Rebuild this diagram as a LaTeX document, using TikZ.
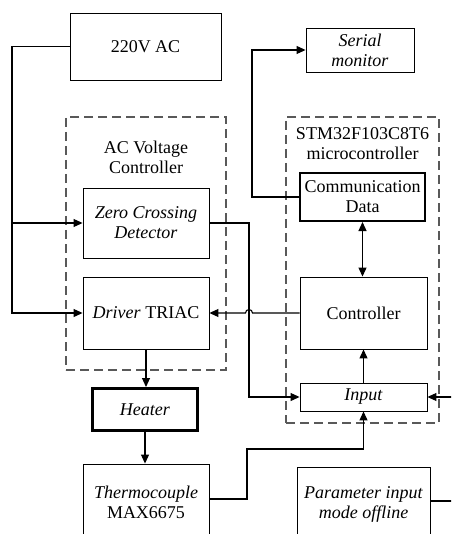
\documentclass[tikz,border=0pt]{standalone}
\usepackage{fontspec}
\setmainfont{Liberation Serif}
\usetikzlibrary{arrows.meta,calc}
\begin{document}
\begin{tikzpicture}[x=1pt,y=-1pt,
  box/.style={draw,line width=0.9pt,align=center,inner sep=0pt,font=\rmfamily\fontsize{18}{20}\selectfont},
  grp/.style={draw=black!65,dash pattern=on 9pt off 5pt,line width=1.1pt,inner sep=0pt},
  conn/.style={line width=1.1pt},
  tip/.tip={Triangle[length=9pt,width=8pt]},
  arr/.style={conn,-tip},
  lbl/.style={align=center,font=\rmfamily\fontsize{18}{20}\selectfont,inner sep=0pt}]
\useasboundingbox (0,0) rectangle (451,534);
\clip (0,0) rectangle (451,534);
% groups
\node[grp,minimum width=160pt,minimum height=253pt] (acv) at (146,243.5) {};
\node[grp,minimum width=153pt,minimum height=306pt] (stm) at (362.5,270) {};
\node[lbl] (acvt) at (146,157) {AC Voltage\\Controller};
\node[lbl] (stmt) at (362.5,143.5) {STM32F103C8T6\\microcontroller};
% boxes
\node[box,minimum width=151pt,minimum height=67pt] (ac) at (145.5,46.5) {220V AC};
\node[box,minimum width=108pt,minimum height=44pt] (ser) at (360,50) {\textit{Serial}\\\textit{monitor}};
\node[box,line width=2pt,minimum width=125pt,minimum height=48pt] (comm) at (362.5,197) {Communication\\Data};
\node[box,minimum width=126pt,minimum height=70pt] (zcd) at (146,223) {\textit{Zero Crossing}\\\textit{Detector}};
\node[box,minimum width=126pt,minimum height=72pt] (drv) at (146,313) {\textit{Driver} TRIAC};
\node[box,minimum width=127pt,minimum height=72pt] (ctrl) at (363.5,313) {Controller};
\node[box,minimum width=127pt,minimum height=28pt] (inp) at (363.5,397) {\textit{Input}};
\node[box,line width=3pt,minimum width=105pt,minimum height=42pt] (heat) at (145,409.5) {\textit{Heater}};
\node[box,minimum width=126pt,minimum height=76pt] (thermo) at (146,502) {\textit{Thermocouple}\\MAX6675};
\node[box,minimum width=133pt,minimum height=74pt] (param) at (363.5,504) {\textit{Parameter input}\\\textit{mode offline}};
% connectors
\coordinate (l3) at (12,313);
\coordinate (l2) at (12,223);
\draw[arr] (ac.west) -| (l3) -- (drv.west);
\draw[arr] (l2) -- (zcd.west);
\draw[arr] (comm.west) -- (252,197) |- (ser.west);
\draw[arr] (zcd.east) -| (249,397) -- (inp.west);
\draw[arr] (ctrl.west) -- (252.5,313) arc[start angle=0,end angle=180,radius=3.5pt] -- (drv.east);
\draw[conn,tip-tip] (comm.south) -- (comm.south |- ctrl.north);
\draw[arr] (inp.north) -- (inp.north |- ctrl.south);
\draw[arr] (drv.south) -- (drv.south |- heat.north);
\draw[arr] (heat.south) -- (heat.south |- thermo.north);
\draw[arr] ($(thermo.east)+(0,-3)$) -- (247,499) |- (363.5,449) -- (inp.south);
\draw[arr] ($(param.east)+(0,-3)$) -- (460,501) |- (inp.east);
\end{tikzpicture}
\end{document}
